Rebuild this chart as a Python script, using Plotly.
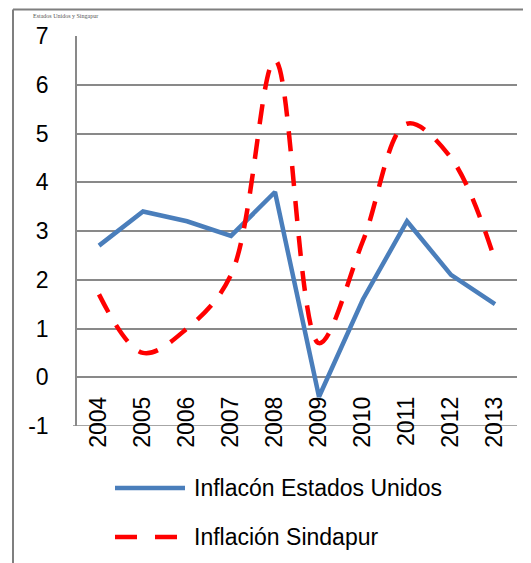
import plotly.graph_objects as go

years = ["2004", "2005", "2006", "2007", "2008", "2009", "2010", "2011", "2012", "2013"]
inflacion_eeuu = [2.7, 3.4, 3.2, 2.9, 3.8, -0.4, 1.6, 3.2, 2.1, 1.5]
inflacion_singapur = [1.7, 0.5, 1.0, 2.1, 6.5, 0.7, 2.8, 5.2, 4.5, 2.4]

nombre_eeuu = "Inflacón Estados Unidos"
nombre_singapur = "Inflación Sindapur"

AZUL = "#4A7EBB"
ROJO = "#FF0000"
GRIS = "#898989"
FUENTE = "Liberation Sans"

# la página tiene 8px de margen en el body: la figura empieza en (8, 8)
OFF = 8
W, H = 531 - OFF, 563 - OFF
# área de trazado en píxeles de la imagen de referencia: x 77..517, y 36..426
L, R, T, B = 77 - OFF, W - (517 - OFF), 36 - OFF, H - (426 - OFF)


def px_x(px):
    return (px - OFF - L) / (W - L - R)


def px_y(py):
    return (H - B - (py - OFF)) / (H - T - B)


fig = go.Figure()

fig.add_trace(go.Scatter(
    x=years, y=inflacion_eeuu, mode="lines", name=nombre_eeuu,
    line=dict(color=AZUL, width=4.5),
))
fig.add_trace(go.Scatter(
    x=years, y=inflacion_singapur, mode="lines", name=nombre_singapur,
    line=dict(color=ROJO, width=4.5, dash="20px,15px", shape="spline", smoothing=1),
))

# eje inferior en -1
fig.add_shape(type="line", xref="paper", yref="y", x0=px_x(73), x1=1, y0=-1, y1=-1,
              line=dict(color=GRIS, width=1.5), layer="below")

# borde exterior del gráfico
fig.add_shape(type="line", xref="paper", yref="paper", x0=px_x(13), x1=px_x(531),
              y0=px_y(9.5), y1=px_y(9.5), line=dict(color="#7f7f7f", width=2))
fig.add_shape(type="line", xref="paper", yref="paper", x0=px_x(13), x1=px_x(13),
              y0=px_y(9.5), y1=px_y(563), line=dict(color="#7f7f7f", width=2))

# leyenda manual
fig.add_shape(type="line", xref="paper", yref="paper", x0=px_x(115), x1=px_x(185),
              y0=px_y(488), y1=px_y(488), line=dict(color=AZUL, width=4.5))
fig.add_shape(type="line", xref="paper", yref="paper", x0=px_x(115), x1=px_x(185),
              y0=px_y(537), y1=px_y(537), line=dict(color=ROJO, width=4.5, dash="22px,18px"))
for nombre, py in [(nombre_eeuu, 488), (nombre_singapur, 537)]:
    fig.add_annotation(text=nombre, xref="paper", yref="paper", x=px_x(192), y=px_y(py),
                       xanchor="left", yanchor="middle", showarrow=False,
                       font=dict(family=FUENTE, size=23, color="black"))

# título (cortado en la imagen original)
fig.add_annotation(text="Estados Unidos y Singapur", xref="paper", yref="paper",
                   x=px_x(100), y=px_y(11), xanchor="right", yanchor="top",
                   showarrow=False, font=dict(family="Liberation Serif", size=6, color="#555555"))

fig.update_layout(
    width=W, height=H,
    margin=dict(l=L, r=R, t=T, b=B, autoexpand=False),
    paper_bgcolor="white", plot_bgcolor="white",
    showlegend=False,
    font=dict(family=FUENTE, size=23, color="black"),
    xaxis=dict(
        type="category", range=[-0.5, 9.5], showgrid=False, showline=False,
        tickangle=-90, ticks="", anchor="free", position=px_y(391), automargin=False,
        tickfont=dict(family=FUENTE, size=23),
    ),
    yaxis=dict(
        range=[-1, 7], showgrid=True, gridcolor=GRIS, gridwidth=1.5,
        zeroline=False, showline=True, linecolor=GRIS, linewidth=1.5, automargin=False,
        ticks="", ticklabelstandoff=22, tickfont=dict(family=FUENTE, size=23),
        tickmode="array", tickvals=[-1, 0, 1, 2, 3, 4, 5, 6, 7],
        ticktext=["-1", "0", "1", "2", "3", "4", "5", "6", "7"],
    ),
)

fig.write_html("out.html")
